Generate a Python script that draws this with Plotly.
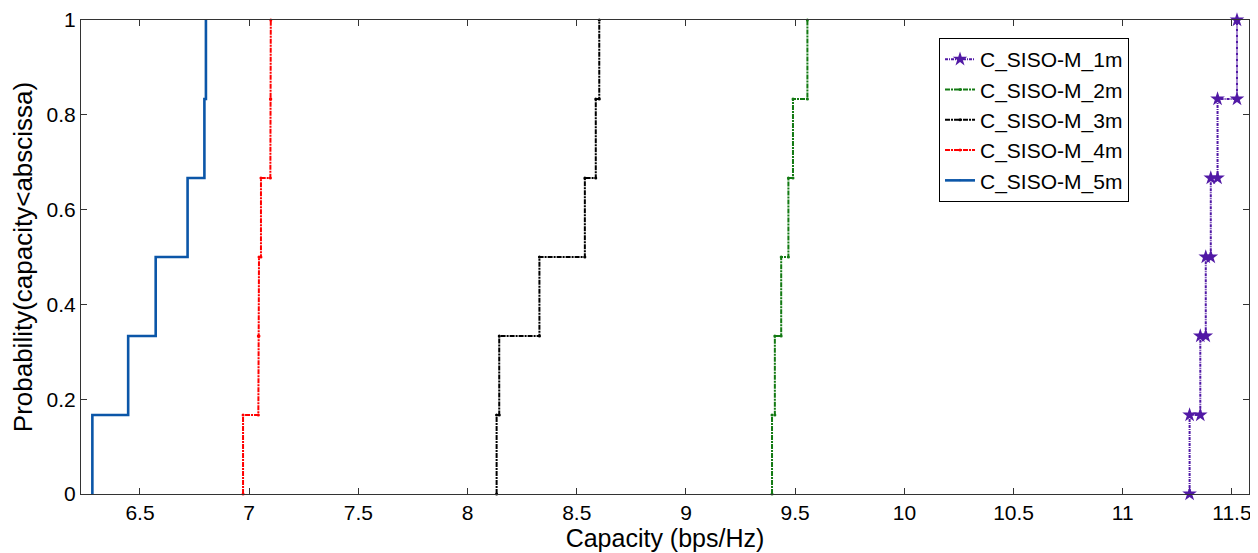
import plotly.graph_objects as go

# Sorted capacity samples (bps/Hz) for each distance; empirical CDF in steps of 1/6
names = ["C_SISO-M_1m", "C_SISO-M_2m", "C_SISO-M_3m", "C_SISO-M_4m", "C_SISO-M_5m"]
cap_1m = [11.306, 11.355, 11.380, 11.403, 11.434, 11.523]
cap_2m = [9.394, 9.407, 9.436, 9.469, 9.490, 9.556]
cap_3m = [8.133, 8.145, 8.329, 8.537, 8.587, 8.603]
cap_4m = [6.972, 7.042, 7.045, 7.054, 7.097, 7.099]
cap_5m = [6.282, 6.446, 6.572, 6.718, 6.795, 6.802]

x_ticks = [6.5, 7, 7.5, 8, 8.5, 9, 9.5, 10, 10.5, 11, 11.5]
x_tick_text = ["6.5", "7", "7.5", "8", "8.5", "9", "9.5", "10", "10.5", "11", "11.5"]
y_ticks = [0, 0.2, 0.4, 0.6, 0.8, 1]
y_tick_text = ["0", "0.2", "0.4", "0.6", "0.8", "1"]

series = [cap_1m, cap_2m, cap_3m, cap_4m, cap_5m]
styles = [
    dict(color="#5119a5", width=2, dash="3px,1px,1px,1px", symbol="star", msize=11),
    dict(color="#137a13", width=2, dash="5px,1px,2px,1px", symbol="circle", msize=3),
    dict(color="#000000", width=2, dash="5px,1px,2px,1px", symbol="circle", msize=3),
    dict(color="#ff0000", width=2, dash="5px,1px,2px,1px", symbol="circle", msize=3),
    dict(color="#0b56a8", width=2.6, dash="solid", symbol="circle", msize=0.1),
]

FONT = "Liberation Sans, Arial, sans-serif"


def ecdf_steps(vals):
    n = len(vals)
    xs, ys = [], []
    for i, v in enumerate(sorted(vals)):
        xs += [v, v]
        ys += [i / n, (i + 1) / n]
    return xs, ys


fig = go.Figure()
for name, vals, st in zip(names, series, styles):
    xs, ys = ecdf_steps(vals)
    fig.add_trace(go.Scatter(
        x=xs, y=ys, name=name, mode="lines+markers",
        line=dict(color=st["color"], width=st["width"], dash=st["dash"]),
        marker=dict(symbol=st["symbol"], size=st["msize"], color=st["color"]),
        cliponaxis=False,
    ))

axis_common = dict(
    showgrid=False, zeroline=False, showline=True, linecolor="#333333", linewidth=1,
    mirror="ticks", ticks="inside", ticklen=6, tickcolor="#333333", automargin=False,
    tickfont=dict(family=FONT, size=21, color="#000000"),
)

fig.update_xaxes(range=[6.23, 11.578], tickvals=x_ticks, ticktext=x_tick_text,
                 title_text="Capacity (bps/Hz)", title_standoff=0,
                 title_font=dict(family=FONT, size=25, color="#000000"), **axis_common)
fig.update_yaxes(range=[0, 1], tickvals=y_ticks, ticktext=y_tick_text,
                 title_text="Probability(capacity<abscissa)", title_standoff=7,
                 title_font=dict(family=FONT, size=26, color="#000000"), **axis_common)

# The page body adds an 8px offset, so the figure is sized to fit inside the window
fig.update_layout(
    width=1250, height=545,
    margin=dict(l=73, r=9, t=12, b=59),
    paper_bgcolor="white", plot_bgcolor="white",
    showlegend=True,
    legend=dict(
        x=0.7346, y=0.962, xanchor="left", yanchor="top",
        bgcolor="white", bordercolor="#000000", borderwidth=1,
        font=dict(family=FONT, size=21, color="#000000"),
        tracegroupgap=0, itemwidth=30,
    ),
)

fig.write_html("out.html")
